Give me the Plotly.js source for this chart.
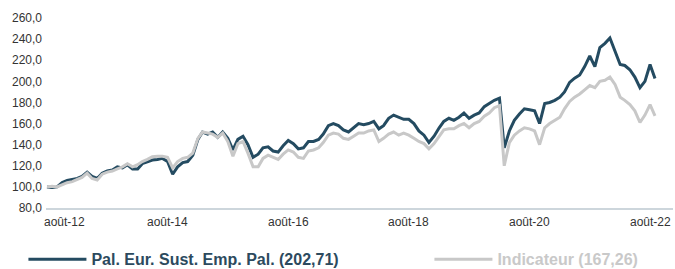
<!DOCTYPE html>
<html>
<head>
<meta charset="utf-8">
<script src="https://cdn.plot.ly/plotly-3.0.1.min.js"></script>
<style>html,body{margin:0;padding:0;background:#fff;}#chart{width:675px;height:269px;}</style>
</head>
<body>
<div id="chart"></div>
<script>
// Monthly observations from Aug 2012 to Aug 2022, plus the final value (31 Aug 2022)
const startYear = 2012, startMonth = 8, nMonths = 121;
const finalDate = '2022-08-31';

const seriesNames = ['Pal. Eur. Sust. Emp. Pal.', 'Indicateur'];

const fundValues = [
  100, 99.5, 100, 104, 106, 107, 108, 110, 114, 110, 108, 113,
  115, 116, 119, 118, 121, 117, 117, 122, 124, 125.5, 126, 127,
  124, 112, 119, 123, 124, 130, 145, 152, 150, 152, 147, 152,
  146, 135, 145, 148, 140, 128, 131, 137, 138, 134, 133, 139,
  144, 141, 136, 137, 143, 143, 145, 150, 158, 160, 158, 154,
  152, 156, 160, 159, 160, 162, 155, 158, 165, 168, 166, 164,
  164, 160, 153, 149, 142, 148, 156, 162, 165, 163, 166, 170,
  165, 168, 170, 176, 179, 182, 184, 137, 153, 163, 169, 174,
  173, 172, 160, 179, 180, 182, 185, 190, 199, 203, 206, 214,
  224, 214, 232, 236, 241, 228, 216, 215, 211, 204, 194, 200,
  216, 202.71
];

const indexValues = [
  100, 100.5, 100, 102, 104, 105, 107, 109, 113, 108, 106.5, 112,
  114, 115, 117, 119, 122, 119, 121, 124, 126, 128.5, 129, 129,
  128, 118, 124, 127, 128, 132, 146, 152, 151, 150, 147, 151,
  143, 129, 141, 143, 132, 119, 119, 127, 130, 128, 126, 131,
  135, 133, 128, 127, 134, 135, 137, 142, 149, 151, 150, 146,
  145, 148, 151, 151, 153, 154, 143, 146, 150, 152, 149, 151,
  149, 146, 143, 141, 136, 141, 148, 154, 155, 155, 158, 160,
  156, 160, 162, 167, 170, 175, 177, 120, 142, 149, 153, 156,
  155, 153, 140, 156, 160, 163, 166, 174, 181, 185, 188, 192,
  196, 194, 200, 201, 204, 197, 185, 182, 178, 172, 161, 168,
  178, 167.26
];

const xTickDates = ['2012-08-01', '2014-08-01', '2016-08-01', '2018-08-01', '2020-08-01', '2022-08-01'];
const xTickLabels = ['août-12', 'août-14', 'août-16', 'août-18', 'août-20', 'août-22'];
const yTickValues = [80, 100, 120, 140, 160, 180, 200, 220, 240, 260];

// build the date list
const dates = [];
for (let i = 0; i < nMonths; i++) {
  const m0 = startMonth - 1 + i;
  const y = startYear + Math.floor(m0 / 12);
  const m = (m0 % 12) + 1;
  dates.push(y + '-' + String(m).padStart(2, '0') + '-01');
}
dates.push(finalDate);

const fmt = v => v.toFixed(2).replace('.', ',');
const darkColor = '#244b61';
const grayColor = '#c8c8c8';

const traces = [
  {
    x: dates, y: fundValues, type: 'scatter', mode: 'lines',
    name: '<b>' + seriesNames[0] + ' (' + fmt(fundValues[fundValues.length - 1]) + ')</b>',
    line: {color: darkColor, width: 3},
    legendwidth: 333
  },
  {
    x: dates, y: indexValues, type: 'scatter', mode: 'lines',
    name: '<span style="color:#c9c9c9"><b>' + seriesNames[1] + ' (' + fmt(indexValues[indexValues.length - 1]) + ')</b></span>',
    line: {color: grayColor, width: 3},
    legendwidth: 160
  }
];

// x-axis labels as annotations (first one is left-aligned like the original)
const xLabelAnnotations = xTickDates.map((d, i) => ({
  x: d, xref: 'x', y: 0, yref: 'paper',
  text: xTickLabels[i], showarrow: false,
  xanchor: i === 0 ? 'left' : 'center', xshift: i === 0 ? -5 : 0,
  yanchor: 'top', yshift: -5,
  font: {family: 'Liberation Sans, Arial, sans-serif', size: 12, color: '#333'}
}));

const layout = {
  width: 675, height: 269,
  margin: {l: 46, r: 2, t: 18, b: 61, pad: 0, autoexpand: false},
  paper_bgcolor: '#fff', plot_bgcolor: '#fff',
  separators: ', ',
  font: {family: 'Liberation Sans, Arial, sans-serif', size: 12, color: '#333'},
  showlegend: true,
  legend: {
    orientation: 'h', x: -0.036, xanchor: 'left', y: -0.27, yanchor: 'middle',
    font: {family: 'Liberation Sans, Arial, sans-serif', size: 16, color: '#2c4a5e'},
    itemwidth: 58,
    bgcolor: 'rgba(0,0,0,0)', borderwidth: 0
  },
  annotations: xLabelAnnotations,
  xaxis: {
    type: 'date', range: ['2012-07-26', '2022-12-18'],
    showticklabels: false,
    showgrid: false, zeroline: false, showline: true, linecolor: '#cdd6dc', linewidth: 2,
    ticks: '', fixedrange: true
  },
  yaxis: {
    range: [80, 260], tickmode: 'array', tickvals: yTickValues, tickformat: '.1f',
    showgrid: false, zeroline: false, showline: false, ticks: '',
    ticklabelstandoff: 3,
    tickfont: {size: 12, color: '#333'}, fixedrange: true
  }
};

Plotly.newPlot('chart', traces, layout, {displayModeBar: false, staticPlot: true});
</script>
</body>
</html>
